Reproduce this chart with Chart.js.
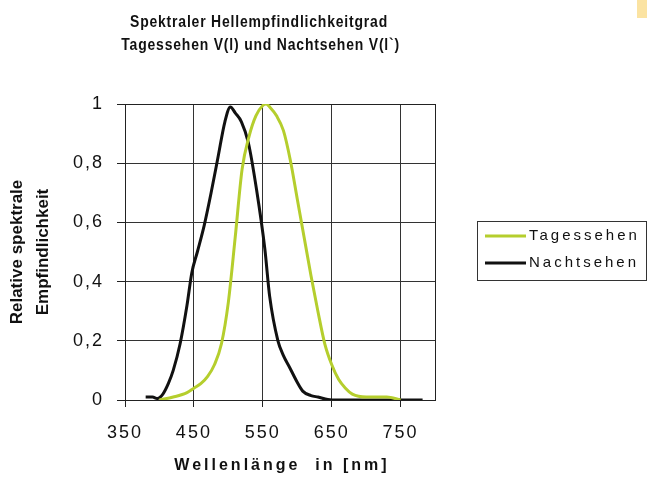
<!DOCTYPE html>
<html>
<head>
<meta charset="utf-8">
<script src="https://cdn.jsdelivr.net/npm/chart.js@4"></script>
<style>
  body { margin: 0; background: #fff; }
  #wrap { position: relative; width: 649px; height: 477px; }
  #corner { position: absolute; left: 637px; top: 0; width: 10px; height: 18px; background: #fbe3a2; }
</style>
</head>
<body>
<div id="wrap">
  <canvas id="spektrum"></canvas>
  <div id="corner"></div>
</div>
<script>
// values
const tagNm = [400, 420, 440, 450, 460, 470, 480, 490, 500, 510, 520, 530, 540, 550, 555, 560, 570, 580, 590, 600, 610, 620, 630, 640, 650, 660, 670, 680, 700, 730, 750];
const tagValues = [0, 0.01, 0.025, 0.04, 0.055, 0.08, 0.12, 0.19, 0.33, 0.55, 0.78, 0.89, 0.96, 0.995, 1.0, 0.99, 0.96, 0.91, 0.81, 0.68, 0.55, 0.42, 0.30, 0.19, 0.12, 0.07, 0.04, 0.02, 0.01, 0.01, 0];

const nachtNm = [380, 390, 397, 405, 413, 420, 430, 440, 447, 455, 465, 475, 485, 495, 503, 510, 519, 529, 541, 553, 560, 572, 580, 589, 600, 608, 620, 630, 650, 700, 782];
const nachtValues = [0.01, 0.01, 0.005, 0.02, 0.056, 0.1, 0.19, 0.32, 0.43, 0.5, 0.59, 0.7, 0.82, 0.94, 0.99, 0.97, 0.94, 0.87, 0.71, 0.51, 0.35, 0.2, 0.15, 0.11, 0.06, 0.03, 0.015, 0.01, 0, 0, 0];

const xTickValues = [350, 450, 550, 650, 750];
const yTickValues = [0, 0.2, 0.4, 0.6, 0.8, 1];
const yTickLabels = ['0', '0,2', '0,4', '0,6', '0,8', '1'];

const titleLines = ['Spektraler Hellempfindlichkeitgrad', 'Tagessehen V(l) und Nachtsehen V(l`)'];
const xTitle = 'Wellenlänge  in [nm]';
const yTitle = ['Relative spektrale', 'Empfindlichkeit'];

const FONT = '"Liberation Sans", Arial, sans-serif';

function toPoints(xs, ys) {
  return xs.map((x, i) => ({ x: x, y: ys[i] }));
}

// title, axis titles, frame and boxed legend drawn by hand
const decorations = {
  id: 'decorations',
  beforeDraw(chart) {
    chart.ctx.letterSpacing = '2px';
  },
  beforeDatasetsDraw(chart) {
    const { ctx, chartArea: a } = chart;
    ctx.save();
    ctx.strokeStyle = '#222';
    ctx.lineWidth = 1;
    ctx.strokeRect(Math.round(a.left) + 0.5, Math.round(a.top) + 0.5, Math.round(a.right - a.left), Math.round(a.bottom - a.top));
    ctx.restore();
  },
  afterDraw(chart) {
    const { ctx, chartArea: a } = chart;
    ctx.save();
    ctx.fillStyle = '#111';

    // main title, squeezed a bit like the scan
    ctx.font = 'bold 17px ' + FONT;
    ctx.letterSpacing = '1px';
    ctx.textAlign = 'center';
    ctx.textBaseline = 'alphabetic';
    ctx.save();
    ctx.translate(259, 0);
    ctx.scale(0.82, 1);
    ctx.fillText(titleLines[0], 0, 27);
    ctx.fillText(titleLines[1], 2, 50);
    ctx.restore();

    // x axis title
    ctx.font = 'bold 16px ' + FONT;
    ctx.letterSpacing = '3px';
    ctx.fillText(xTitle, (a.left + a.right) / 2 + 2, 470);

    // y axis title
    ctx.font = 'bold 17px ' + FONT;
    ctx.letterSpacing = '0px';
    ctx.textBaseline = 'middle';
    const cy = (a.top + a.bottom) / 2;
    [17, 43].forEach((x, i) => {
      ctx.save();
      ctx.translate(x, cy);
      ctx.rotate(-Math.PI / 2);
      ctx.fillText(yTitle[i], 0, 0);
      ctx.restore();
    });

    // legend
    ctx.strokeStyle = '#333';
    ctx.lineWidth = 1;
    ctx.strokeRect(477.5, 221.5, 169, 59);
    ctx.font = '15px ' + FONT;
    ctx.letterSpacing = '3px';
    ctx.textAlign = 'left';
    chart.data.datasets.forEach((ds, i) => {
      const y = 236 + i * 27;
      ctx.strokeStyle = ds.borderColor;
      ctx.lineWidth = ds.borderWidth;
      ctx.beginPath();
      ctx.moveTo(485, y);
      ctx.lineTo(526, y);
      ctx.stroke();
      ctx.fillText(ds.label, 529, y);
    });
    ctx.restore();
  }
};

new Chart(document.getElementById('spektrum'), {
  type: 'line',
  data: {
    datasets: [
      {
        label: 'Tagessehen',
        data: toPoints(tagNm, tagValues),
        borderColor: '#b5ce2d',
        borderWidth: 3,
        pointRadius: 0,
        cubicInterpolationMode: 'monotone',
        fill: false
      },
      {
        label: 'Nachtsehen',
        data: toPoints(nachtNm, nachtValues),
        borderColor: '#111111',
        borderWidth: 3,
        pointRadius: 0,
        cubicInterpolationMode: 'monotone',
        fill: false
      }
    ]
  },
  plugins: [decorations],
  options: {
    responsive: true,
    maintainAspectRatio: false,
    animation: false,
    layout: { padding: { top: 104, right: 214, bottom: 0, left: 0 } },
    plugins: {
      legend: { display: false },
      title: { display: false },
      tooltip: { enabled: false }
    },
    scales: {
      x: {
        type: 'linear',
        min: 350,
        max: 800,
        afterBuildTicks: (s) => { s.ticks = xTickValues.map(v => ({ value: v })); },
        afterFit: (s) => { s.height = 77; s.paddingLeft = 0; s.paddingRight = 0; },
        grid: { color: '#333', lineWidth: 1, tickLength: 7, tickColor: '#222' },
        border: { display: true, color: '#222' },
        ticks: {
          padding: 15,
          color: '#111',
          font: { family: FONT, size: 18 },
          maxRotation: 0,
          callback: (v) => String(v)
        }
      },
      y: {
        min: 0,
        max: 1,
        afterBuildTicks: (s) => { s.ticks = yTickValues.map(v => ({ value: v })); },
        afterFit: (s) => { s.width = 125; s.paddingTop = 0; s.paddingBottom = 0; },
        grid: { color: '#333', lineWidth: 1, tickLength: 8, tickColor: '#222' },
        border: { display: true, color: '#222' },
        ticks: {
          padding: 13,
          color: '#111',
          font: { family: FONT, size: 18 },
          callback: (v, i) => yTickLabels[i]
        }
      }
    }
  }
});
</script>
</body>
</html>
